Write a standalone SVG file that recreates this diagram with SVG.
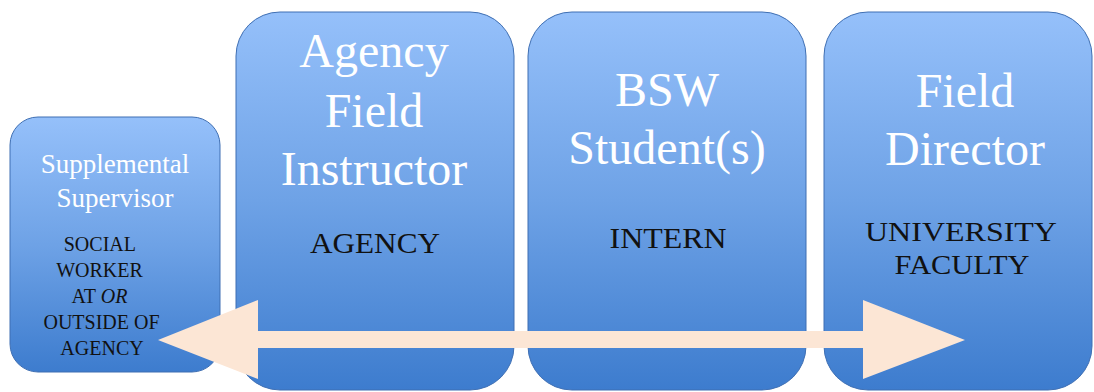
<svg xmlns="http://www.w3.org/2000/svg" width="1094" height="392" viewBox="0 0 1094 392">
  <defs>
    <linearGradient id="boxFill" x1="0" y1="0" x2="0" y2="1">
      <stop offset="0" stop-color="#95c0fa"/>
      <stop offset="0.5" stop-color="#6ea2e6"/>
      <stop offset="1" stop-color="#3d7cce"/>
    </linearGradient>
    <style>
      .box { fill: url(#boxFill); stroke: #3f6fb3; stroke-width: 1; }
      .title { font-family: "Liberation Serif", "Times New Roman", serif; fill: #ffffff; text-anchor: middle; }
      .role { font-family: "Liberation Serif", "Times New Roman", serif; fill: #111111; text-anchor: middle; }
      .arrow { fill: #fce6d5; }
    </style>
  </defs>
  <rect width="1094" height="392" fill="#ffffff"/>

  <g id="supplemental-supervisor">
    <rect class="box" x="10" y="117" width="210" height="255" rx="28"/>
    <text class="title" x="115" y="173" font-size="27">Supplemental</text>
    <text class="title" x="115" y="207" font-size="27">Supervisor</text>
    <text class="role" font-size="20">
      <tspan x="102" y="251">SOCIAL</tspan>
      <tspan x="102" y="277">WORKER</tspan>
      <tspan x="102" y="303">AT <tspan font-style="italic">OR</tspan></tspan>
      <tspan x="104" y="329">OUTSIDE OF</tspan>
      <tspan x="102" y="355">AGENCY</tspan>
    </text>
  </g>

  <g id="agency-field-instructor">
    <rect class="box" x="236" y="12" width="278" height="378" rx="44"/>
    <text class="title" x="374" y="67" font-size="48">Agency</text>
    <text class="title" x="374" y="127" font-size="48">Field</text>
    <text class="title" x="374" y="185" font-size="48">Instructor</text>
    <text class="role" x="375" y="253" font-size="29" textLength="130" lengthAdjust="spacingAndGlyphs">AGENCY</text>
  </g>

  <g id="bsw-students">
    <rect class="box" x="528" y="12" width="278" height="378" rx="44"/>
    <text class="title" x="667" y="106" font-size="48">BSW</text>
    <text class="title" x="667" y="164" font-size="48">Student(s)</text>
    <text class="role" x="668" y="248" font-size="29" textLength="117" lengthAdjust="spacingAndGlyphs">INTERN</text>
  </g>

  <g id="field-director">
    <rect class="box" x="824" y="12" width="268" height="378" rx="44"/>
    <text class="title" x="965" y="107" font-size="48">Field</text>
    <text class="title" x="965" y="165" font-size="48">Director</text>
    <text class="role" x="961" y="241" font-size="28" textLength="192" lengthAdjust="spacingAndGlyphs">UNIVERSITY</text>
    <text class="role" x="962" y="274" font-size="28" textLength="135" lengthAdjust="spacingAndGlyphs">FACULTY</text>
  </g>

  <g id="connectors">
    <polygon class="arrow" points="158,340 258,300 258,331 863,331 863,300 965,340 863,379 863,348 258,348 258,379"/>
  </g>
</svg>
